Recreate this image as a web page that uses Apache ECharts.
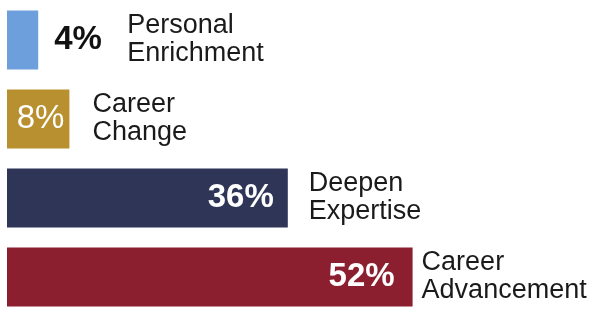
<!DOCTYPE html>
<html>
<head>
<meta charset="utf-8">
<script src="https://cdn.jsdelivr.net/npm/echarts@6/dist/echarts.min.js"></script>
<style>
  html, body { margin: 0; padding: 0; background: #fff; }
  #chart { width: 595px; height: 310px; }
</style>
</head>
<body>
<div id="chart"></div>
<script>
const categories = ['Personal\nEnrichment', 'Career\nChange', 'Deepen\nExpertise', 'Career\nAdvancement']
const shares = [4, 8, 36, 52]

const colors = ['#6d9fdc', '#b8902f', '#2e3557', '#8b1f30']
// label placement, tuned to the reference
const pctPos = ['right', 'insideRight', 'insideRight', 'insideRight']
const pctColor = ['#111', '#fff', '#fff', '#fff']
const pctWeight = ['bold', 'normal', 'bold', 'bold']
const pctDist = [16, 5, 14, 18]
const nameDist = [89, 23, 21, 9]

const pctFont = '"Liberation Sans", Arial, sans-serif'
const nameFont = '"Liberation Sans", Arial, sans-serif'

const chart = echarts.init(document.getElementById('chart'))

chart.setOption({
  animation: false,
  grid: { left: 7, top: 40, width: 585, height: 237 },
  xAxis: { type: 'value', min: 0, max: 75, show: false },
  yAxis: { type: 'category', inverse: true, boundaryGap: false, data: categories, show: false },
  series: [
    {
      type: 'bar',
      barWidth: 59,
      data: shares.map((v, i) => ({
        value: v,
        itemStyle: { color: colors[i] },
        label: {
          show: true,
          position: pctPos[i],
          distance: pctDist[i],
          color: pctColor[i],
          formatter: '{c}%',
          fontFamily: pctFont,
          fontWeight: pctWeight[i],
          fontSize: 33
        }
      }))
    },
    {
      type: 'bar',
      barWidth: 59,
      barGap: '-100%',
      silent: true,
      itemStyle: { color: 'transparent' },
      data: shares.map((v, i) => ({
        value: v,
        label: {
          show: true,
          position: 'right',
          distance: nameDist[i],
          color: '#1a1a1a',
          formatter: categories[i],
          fontFamily: nameFont,
          fontSize: 27,
          lineHeight: 28
        }
      }))
    }
  ]
})

window.addEventListener('resize', () => {
  chart.resize()
})
</script>
</body>
</html>
